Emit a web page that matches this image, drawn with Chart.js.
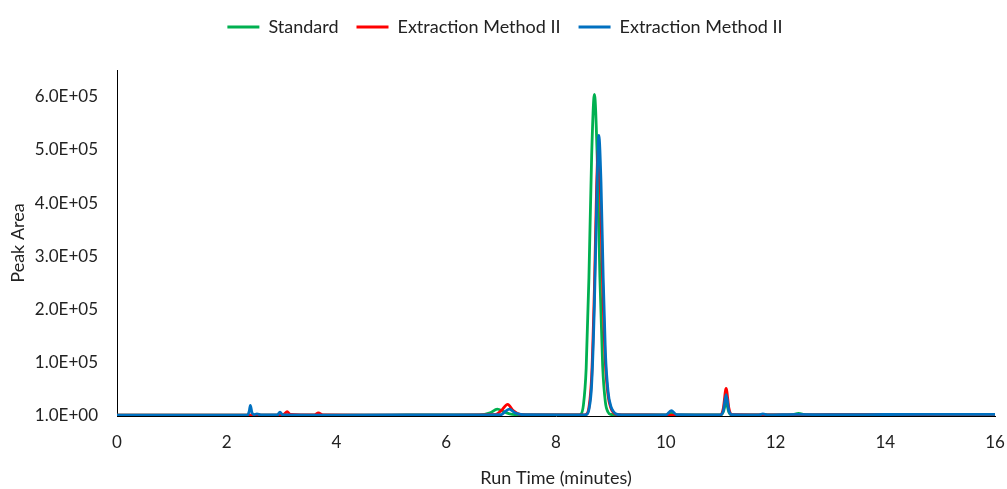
<!DOCTYPE html>
<html>
<head>
<meta charset="utf-8">
<script src="https://cdn.jsdelivr.net/npm/chart.js@4.4.0/dist/chart.umd.min.js"></script>
<style>
html, body { margin: 0; padding: 0; background: #fff; }
#wrap { width: 1007px; height: 489px; }
</style>
</head>
<body>
<div id="wrap"><canvas id="peakChart"></canvas></div>
<script>
// Chromatogram traces: run time (min) and peak area for each sample
const stdTime = [0, 1, 2, 2.5, 3, 4, 5, 6, 6.6, 6.8, 6.93, 7.05, 7.2, 7.5, 8, 8.4, 8.45, 8.5, 8.55, 8.6, 8.65, 8.7, 8.75, 8.8, 8.85, 8.9, 8.95, 9, 9.1, 9.6, 10, 10.1, 10.2, 11, 11.05, 11.1, 11.15, 11.2, 12.3, 12.42, 12.55, 13, 14, 15, 16];
const stdArea = [1500, 1500, 1500, 1800, 1500, 1500, 1800, 2000, 2200, 6000, 13000, 8000, 3000, 2000, 2000, 2000, 3000, 21000, 90000, 260000, 490000, 604000, 490000, 260000, 95000, 26000, 7000, 3000, 2000, 2000, 2000, 5000, 2000, 2000, 8000, 25000, 7000, 2000, 2000, 5000, 2000, 2500, 2500, 3000, 3000];

const extATime = [0, 2, 3, 3.05, 3.1, 3.16, 3.6, 3.67, 3.75, 4.5, 6, 6.9, 7, 7.12, 7.22, 7.35, 7.6, 8.5, 8.55, 8.6, 8.65, 8.7, 8.74, 8.77, 8.81, 8.85, 8.9, 8.95, 9, 9.05, 9.1, 9.2, 10, 10.1, 11, 11.05, 11.1, 11.15, 11.2, 12, 13, 14, 15, 16];
const extAArea = [1500, 1500, 1500, 4000, 8000, 3000, 2000, 6000, 2000, 1800, 1800, 3000, 10000, 22000, 10000, 3000, 2000, 2000, 3000, 16000, 75000, 240000, 430000, 500000, 420000, 250000, 100000, 38000, 15000, 6000, 3000, 2000, 1800, 1500, 2000, 15000, 52000, 15000, 2500, 2000, 2500, 2500, 3000, 3000];

const extBTime = [0, 2, 2.38, 2.41, 2.43, 2.46, 2.5, 2.55, 2.62, 2.92, 2.97, 3.02, 4, 6, 7, 7.08, 7.15, 7.25, 7.4, 8.5, 8.55, 8.6, 8.65, 8.7, 8.75, 8.78, 8.82, 8.86, 8.9, 8.95, 9, 9.05, 9.1, 9.2, 10, 10.1, 10.2, 11, 11.05, 11.1, 11.15, 11.2, 11.7, 11.77, 11.85, 12.4, 13, 14, 15, 16];
const extBArea = [1800, 1800, 2000, 9000, 20000, 6000, 2500, 4000, 2000, 2000, 7000, 2000, 1800, 2000, 2500, 9000, 13000, 6000, 2500, 2000, 2500, 12000, 60000, 210000, 440000, 527000, 440000, 260000, 120000, 45000, 18000, 8000, 3500, 2000, 2000, 10000, 2500, 2000, 10000, 40000, 10000, 2500, 2000, 4000, 2000, 3000, 2500, 2800, 3000, 3000];

const seriesNames = ['Standard', 'Extraction Method II', 'Extraction Method II'];
const seriesColors = ['#00B050', '#FF0000', '#0070C0'];
const yTicks = [1, 100001, 200001, 300001, 400001, 500001, 600001];

function toPoints(times, areas) {
    return times.map((t, i) => ({ x: t, y: areas[i] }));
}

// Excel-style scientific labels, e.g. 1.0E+05
function sciLabel(v) {
    const parts = Number(v).toExponential(1).split('e');
    const exp = parseInt(parts[1], 10);
    const sign = exp < 0 ? '-' : '+';
    return parts[0] + 'E' + sign + String(Math.abs(exp)).padStart(2, '0');
}

function makeDataset(i, times, areas, order) {
    return {
        label: seriesNames[i],
        data: toPoints(times, areas),
        borderColor: seriesColors[i],
        backgroundColor: seriesColors[i],
        pointBorderColor: seriesColors[i],
        pointBackgroundColor: seriesColors[i],
        pointBorderWidth: 3,
        order: order
    };
}

// leave some room between the legend and the plot
const legendGap = {
    id: 'legendGap',
    beforeInit(chart) {
        const fit = chart.legend.fit;
        chart.legend.fit = function () {
            fit.bind(chart.legend)();
            this.height += 24;
        };
    }
};

Chart.defaults.font.family = 'Lato';
Chart.defaults.color = '#222';

const ctx = document.getElementById('peakChart').getContext('2d');
const peakChart = new Chart(ctx, {
    type: 'line',
    data: {
        datasets: [
            makeDataset(0, stdTime, stdArea, 3),
            makeDataset(1, extATime, extAArea, 2),
            makeDataset(2, extBTime, extBArea, 1)
        ]
    },
    options: {
        responsive: true,
        maintainAspectRatio: false,
        animation: false,
        layout: {
            padding: { top: 0, right: 0, left: 3, bottom: 0 }
        },
        elements: {
            line: { borderWidth: 2.8, cubicInterpolationMode: 'monotone' },
            point: { radius: 0 }
        },
        plugins: {
            legend: {
                position: 'top',
                reverse: true,
                labels: {
                    usePointStyle: true,
                    pointStyle: 'line',
                    pointStyleWidth: 32,
                    padding: 18,
                    font: { size: 18 }
                }
            },
            tooltip: { enabled: false }
        },
        scales: {
            x: {
                type: 'linear',
                min: 0,
                max: 16,
                grid: { display: true, drawOnChartArea: false, drawTicks: false },
                border: { display: true, color: '#000', width: 1 },
                ticks: { stepSize: 2, padding: 16, font: { size: 17 } },
                title: {
                    display: true,
                    text: 'Run Time (minutes)',
                    font: { size: 18 },
                    padding: { top: 4, bottom: 0 }
                },
                afterFit: (scale) => {
                    scale.height = 73;
                    scale.paddingRight = 12;
                }
            },
            y: {
                min: 1,
                max: 650001,
                grid: { display: true, drawOnChartArea: false, drawTicks: false },
                border: { display: true, color: '#000', width: 1 },
                afterBuildTicks: (scale) => {
                    scale.ticks = yTicks.map(v => ({ value: v }));
                },
                ticks: {
                    padding: 19,
                    font: { size: 17 },
                    callback: (v) => sciLabel(v)
                },
                title: {
                    display: true,
                    text: 'Peak Area',
                    font: { size: 18 },
                    padding: { top: 4, bottom: 4 }
                },
                afterFit: (scale) => { scale.width = 114; }
            }
        }
    },
    plugins: [legendGap]
});
</script>
</body>
</html>
